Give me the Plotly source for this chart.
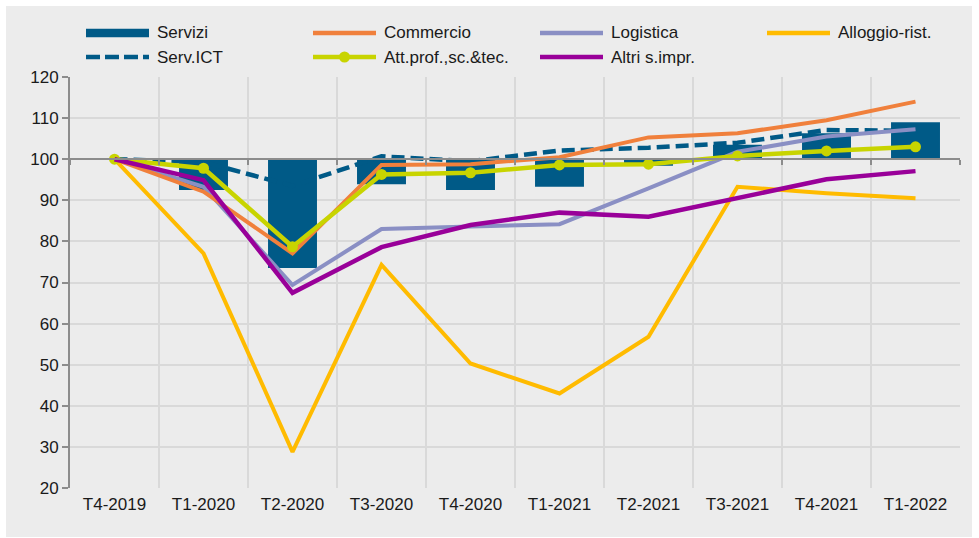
import plotly.graph_objects as go

# ---------------- data ----------------
quarters = ["T4-2019", "T1-2020", "T2-2020", "T3-2020", "T4-2020",
            "T1-2021", "T2-2021", "T3-2021", "T4-2021", "T1-2022"]
servizi = [100, 92.5, 73.5, 93.9, 92.5, 93.3, 98.4, 103.5, 106.3, 109.0]
serv_ict = [100, 99.3, 93.5, 100.7, 99.5, 102.1, 102.8, 104.0, 107.1, 106.9]
commercio = [100, 92.1, 77.1, 98.6, 98.8, 100.5, 105.3, 106.3, 109.5, 114.0]
logistica = [100, 93.3, 69.4, 83.0, 83.6, 84.2, 92.9, 101.8, 105.5, 107.3]
alloggio = [100, 77.1, 28.8, 74.3, 50.3, 43.0, 56.8, 93.3, 91.7, 90.5]
att_prof = [100, 97.8, 78.7, 96.3, 96.7, 98.6, 98.8, 100.8, 102.0, 103.0]
altri = [100, 94.9, 67.5, 78.6, 84.0, 87.0, 86.0, 90.5, 95.1, 97.1]
BASE = 100
y_ticks = [20, 30, 40, 50, 60, 70, 80, 90, 100, 110, 120]

# ---------------- styles ----------------
C_SERV = "#005A87"
C_COMM = "#F0803C"
C_LOG = "#8A8FC4"
C_ALL = "#FFBB00"
C_ATT = "#C8D400"
C_ALT = "#990099"
FONT = "Liberation Sans, Arial, sans-serif"
TXT = "#1A1A1A"
BG = "#ECECEC"
GRID = "#D9D9D9"
AX = "#8C8C8C"

W, H = 979, 538
ML, MR, MT, MB = 70, 19, 77, 50
PW, PH = W - ML - MR, H - MT - MB


def px_x(p):
    return (p - ML) / PW


def px_y(p):
    return (H - MB - p) / PH


fig = go.Figure()

fig.add_trace(go.Bar(
    x=quarters, y=[v - BASE for v in servizi], base=BASE, name="Servizi",
    width=0.55, marker=dict(color=C_SERV, line=dict(width=0)), showlegend=False))

fig.add_trace(go.Scatter(
    x=quarters, y=serv_ict, name="Serv.ICT", mode="lines",
    line=dict(color=C_SERV, width=4.5, dash="13px,6px"), showlegend=False))
fig.add_trace(go.Scatter(
    x=quarters, y=logistica, name="Logistica", mode="lines",
    line=dict(color=C_LOG, width=4), showlegend=False))
fig.add_trace(go.Scatter(
    x=quarters, y=commercio, name="Commercio", mode="lines",
    line=dict(color=C_COMM, width=4), showlegend=False))
fig.add_trace(go.Scatter(
    x=quarters, y=alloggio, name="Alloggio-rist.", mode="lines",
    line=dict(color=C_ALL, width=4), showlegend=False))
fig.add_trace(go.Scatter(
    x=quarters, y=att_prof, name="Att.prof.,sc.&tec.", mode="lines+markers",
    line=dict(color=C_ATT, width=4.5), marker=dict(color=C_ATT, size=11),
    showlegend=False))
fig.add_trace(go.Scatter(
    x=quarters, y=altri, name="Altri s.impr.", mode="lines",
    line=dict(color=C_ALT, width=4.5), showlegend=False))

# invisible helper trace for the reference axis drawn at 100
fig.add_trace(go.Scatter(
    x=quarters, y=[None] * len(quarters), xaxis="x2", mode="lines",
    showlegend=False, hoverinfo="skip"))

# ---------------- custom legend ----------------
legend_items = [
    ("Servizi", C_SERV, "bar"),
    ("Commercio", C_COMM, "line"),
    ("Logistica", C_LOG, "line"),
    ("Alloggio-rist.", C_ALL, "line"),
    ("Serv.ICT", C_SERV, "dash"),
    ("Att.prof.,sc.&tec.", C_ATT, "marker"),
    ("Altri s.impr.", C_ALT, "line"),
]
LEG_X0, LEG_DX, LEG_ROWS_Y = 86, 227, [33, 57]
SYM_LEN, TEXT_OFF = 63, 69

shapes = [dict(type="rect", xref="paper", yref="paper",
               x0=px_x(6), x1=px_x(972), y0=px_y(537), y1=px_y(6),
               fillcolor=BG, line=dict(width=0), layer="below")]
annotations = []
for i, (name, col, kind) in enumerate(legend_items):
    r, c = divmod(i, 4)
    x0 = LEG_X0 + c * LEG_DX
    yc = LEG_ROWS_Y[r]
    if kind == "bar":
        shapes.append(dict(type="rect", xref="paper", yref="paper",
                           x0=px_x(x0), x1=px_x(x0 + SYM_LEN),
                           y0=px_y(yc + 4.3), y1=px_y(yc - 4.3),
                           fillcolor=col, line=dict(width=0)))
    else:
        shapes.append(dict(type="line", xref="paper", yref="paper",
                           x0=px_x(x0), x1=px_x(x0 + SYM_LEN),
                           y0=px_y(yc), y1=px_y(yc),
                           line=dict(color=col, width=4.5,
                                     dash="14px,5px" if kind == "dash" else "solid")))
        if kind == "marker":
            shapes.append(dict(type="circle", xref="paper", yref="paper",
                               xsizemode="pixel", ysizemode="pixel",
                               xanchor=px_x(x0 + SYM_LEN / 2), yanchor=px_y(yc),
                               x0=-5.5, x1=5.5, y0=-5.5, y1=5.5,
                               fillcolor=col, line=dict(width=0)))
    annotations.append(dict(xref="paper", yref="paper", x=px_x(x0 + TEXT_OFF),
                            y=px_y(yc), text=name, showarrow=False,
                            xanchor="left", yanchor="middle",
                            font=dict(family=FONT, size=17, color=TXT)))

fig.update_layout(
    width=W, height=H,
    margin=dict(l=ML, r=MR, t=MT, b=MB),
    paper_bgcolor="white", plot_bgcolor="rgba(0,0,0,0)",
    font=dict(family=FONT, size=16.5, color=TXT),
    showlegend=False,
    shapes=shapes, annotations=annotations,
    xaxis=dict(type="category", categoryorder="array", categoryarray=quarters,
               range=[-0.5, len(quarters) - 0.5],
               tickson="boundaries", showgrid=True, gridcolor=GRID, gridwidth=1.5,
               ticks="", showline=False, zeroline=False, ticklabelstandoff=4,
               tickfont=dict(family=FONT, size=17, color=TXT)),
    xaxis2=dict(matches="x", overlaying="x", anchor="free", position=0.8,
                side="bottom", showline=True, linecolor=AX, linewidth=2,
                ticks="outside", ticklen=5, tickcolor=AX, tickwidth=1.5,
                tickson="boundaries", showticklabels=False, showgrid=False,
                zeroline=False),
    yaxis=dict(range=[20, 120], tickvals=y_ticks, showgrid=True,
               gridcolor=GRID, gridwidth=2, zeroline=False,
               showline=True, linecolor=AX, linewidth=2,
               ticks="outside", ticklen=6, tickcolor=AX, tickwidth=1.5,
               tickfont=dict(family=FONT, size=17, color=TXT)),
)

fig.write_html("out.html", config={"displayModeBar": False},
               post_script="document.body.style.margin='0px';")
